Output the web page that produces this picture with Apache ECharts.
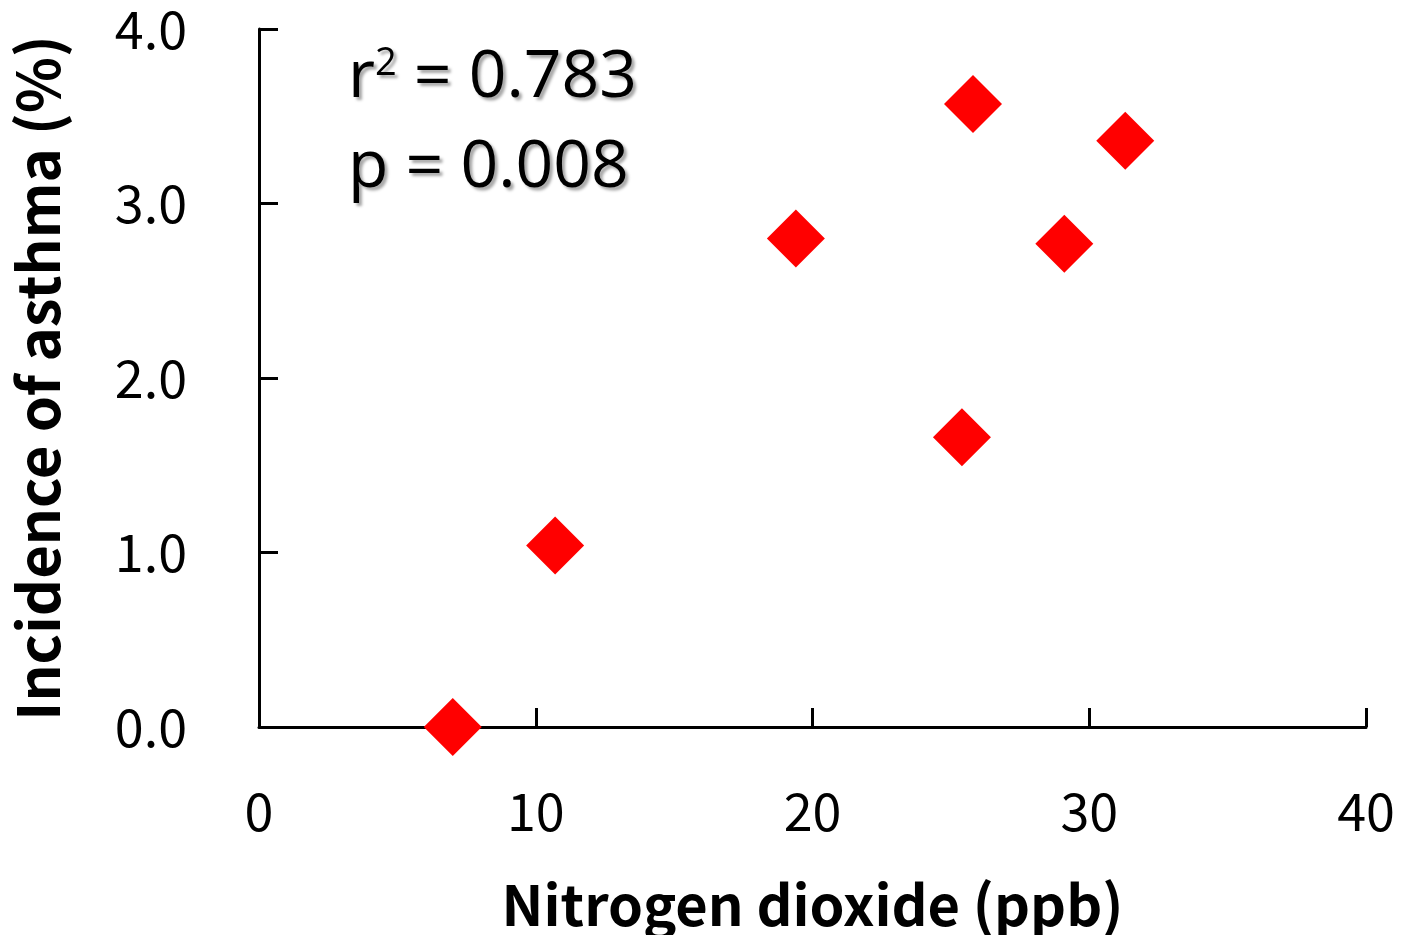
<!DOCTYPE html>
<html>
<head>
<meta charset="utf-8">
<script src="https://cdn.jsdelivr.net/npm/echarts@6/dist/echarts.min.js"></script>
<style>
  html, body { margin: 0; padding: 0; background: #fff; }
  #chart { width: 1402px; height: 935px; }
</style>
</head>
<body>
<div id="chart"></div>
<script>
// 二氧化氮浓度 (ppb)
const no2 = [7.0, 10.7, 19.4, 25.4, 25.8, 29.1, 31.3]
// 哮喘发病率 (%)
const asthma = [0.0, 1.04, 2.80, 1.66, 3.57, 2.77, 3.36]
const xTicks = [0, 10, 20, 30, 40]
const yTicks = [0, 1, 2, 3, 4]

const labelFont = '"Noto Sans CJK JP", "DejaVu Sans", sans-serif'
const noteFont = '"Open Sans", "Noto Sans", sans-serif'
// 注释文字阴影
const shadow = {
  textShadowColor: 'rgba(0,0,0,0.35)',
  textShadowOffsetX: 3,
  textShadowOffsetY: 3,
  textShadowBlur: 3
}

let myChart = echarts.init(document.getElementById('chart'))
myChart.setOption({
  animation: false,
  grid: {
    left: 259,
    right: 36,
    top: 29,
    bottom: 208,
    containLabel: false,
    outerBoundsMode: 'none'
  },
  xAxis: {
    type: 'value',
    min: xTicks[0],
    max: xTicks[xTicks.length - 1],
    interval: 10,
    name: 'Nitrogen dioxide (ppb)',
    nameLocation: 'middle',
    nameGap: 150,
    nameTextStyle: {
      fontFamily: labelFont,
      fontSize: 56,
      fontWeight: 'bold',
      color: '#000'
    },
    axisLine: { show: true, onZero: false, lineStyle: { color: '#000', width: 3 } },
    axisTick: { show: true, inside: true, length: 19, lineStyle: { color: '#000', width: 3 } },
    axisLabel: {
      margin: 58,
      fontFamily: labelFont,
      fontSize: 52,
      color: '#000'
    },
    splitLine: { show: false }
  },
  yAxis: {
    type: 'value',
    min: yTicks[0],
    max: yTicks[yTicks.length - 1],
    interval: 1,
    name: 'Incidence of asthma (%)',
    nameLocation: 'middle',
    nameGap: 192,
    nameTextStyle: {
      fontFamily: labelFont,
      fontSize: 58,
      fontWeight: 'bold',
      color: '#000'
    },
    axisLine: { show: true, onZero: false, lineStyle: { color: '#000', width: 3 } },
    axisTick: { show: true, inside: true, length: 19, lineStyle: { color: '#000', width: 3 } },
    axisLabel: {
      margin: 72,
      fontFamily: labelFont,
      fontSize: 52,
      color: '#000',
      formatter: function (v) { return v.toFixed(1) }
    },
    splitLine: { show: false }
  },
  graphic: [
    {
      type: 'text',
      left: 348,
      top: 45,
      style: {
        text: '{r|r}{sup|2}{t| = 0.783}',
        rich: {
          r: Object.assign({ fontSize: 66, fontFamily: noteFont, fill: '#000' }, shadow),
          sup: Object.assign({ fontSize: 38, fontFamily: noteFont, fill: '#000', verticalAlign: 'top', padding: [0, 0, 24, 0] }, shadow),
          t: Object.assign({ fontSize: 66, fontFamily: noteFont, fill: '#000' }, shadow)
        }
      }
    },
    {
      type: 'text',
      left: 348,
      top: 135,
      style: Object.assign({
        text: 'p = 0.008',
        fontSize: 66,
        fontFamily: noteFont,
        fill: '#000'
      }, shadow)
    }
  ],
  series: [
    {
      type: 'scatter',
      symbol: 'diamond',
      symbolSize: 58,
      itemStyle: { color: '#ff0000', opacity: 1 },
      data: no2.map(function (x, i) { return [x, asthma[i]] })
    }
  ]
})
</script>
</body>
</html>
